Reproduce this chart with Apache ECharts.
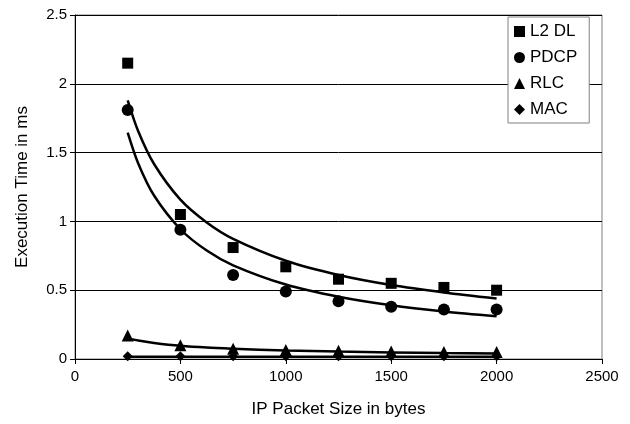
<!DOCTYPE html>
<html>
<head>
<meta charset="utf-8">
<script src="https://cdn.jsdelivr.net/npm/echarts@6/dist/echarts.min.js"></script>
<style>html,body{margin:0;padding:0;background:#fff}#c{width:630px;height:424px}</style>
</head>
<body>
<div id="c"></div>
<script>
const packetSizes = [250, 500, 750, 1000, 1250, 1500, 1750, 2000];
const l2dl = [2.15, 1.05, 0.81, 0.67, 0.58, 0.55, 0.52, 0.50];
const pdcp = [1.81, 0.94, 0.61, 0.49, 0.42, 0.38, 0.36, 0.36];
const rlc  = [0.17, 0.10, 0.075, 0.065, 0.06, 0.055, 0.05, 0.05];
const mac  = [0.02, 0.02, 0.02, 0.02, 0.02, 0.02, 0.02, 0.02];
// trend curves
const trendSizes = [250, 300, 375, 500, 625, 750, 1000, 1250, 1500, 1750, 2000];
const l2dlTrend = [1.88, 1.655, 1.417, 1.158, 0.992, 0.873, 0.714, 0.611, 0.538, 0.484, 0.44];
const pdcpTrend = [1.645, 1.421, 1.188, 0.943, 0.788, 0.681, 0.541, 0.452, 0.39, 0.345, 0.31];
const rlcTrend  = [0.15, 0.134, 0.117, 0.096, 0.083, 0.075, 0.062, 0.054, 0.048, 0.043, 0.04];
const macTrend  = [0.016, 0.016, 0.016, 0.016, 0.016, 0.016, 0.016, 0.016, 0.016, 0.016, 0.016];
const xTicks = [0, 500, 1000, 1500, 2000, 2500];
const yTicks = [0, 0.5, 1, 1.5, 2, 2.5];
const seriesNames = ['L2 DL', 'PDCP', 'RLC', 'MAC'];

function pairs(xs, vals){ return xs.map((x,i)=>[x, vals[i]]); }
const font = 'Liberation Sans, Arial, sans-serif';

const chart = echarts.init(document.getElementById('c'), null, {renderer:'canvas'});
const trend = (vals) => ({
  type:'line', data: pairs(trendSizes, vals), smooth: 0.3, showSymbol:false, silent:true,
  lineStyle:{color:'#000', width:2.5}, z:2
});
const scat = (name, vals, symbol, size) => ({
  type:'scatter', name, data: pairs(packetSizes, vals), symbol, symbolSize:size,
  itemStyle:{color:'#000', opacity:1}, z:5
});
chart.setOption({
  animation:false,
  grid:{left:75, right:28, top:15, bottom:65, show:true, borderColor:'#808080', borderWidth:1},
  legend:{
    data: seriesNames, orient:'vertical', left:508, top:17,
    width:80, backgroundColor:'#fff',
    borderColor:'#808080', borderWidth:1, padding:[6,12,5,6],
    itemGap:9, itemWidth:11, itemHeight:11,
    itemStyle:{opacity:1},
    textStyle:{fontFamily:font, fontSize:17, color:'#000', lineHeight:17}
  },
  xAxis:{
    type:'value', min:xTicks[0], max:xTicks[xTicks.length-1], interval:500,
    name:'IP Packet Size in bytes', nameLocation:'middle', nameGap:42,
    nameTextStyle:{fontFamily:font, fontSize:17, color:'#000'},
    axisLine:{show:true, lineStyle:{color:'#000', width:1}},
    axisTick:{show:true, length:5, lineStyle:{color:'#000'}},
    axisLabel:{fontFamily:font, fontSize:15, color:'#000', margin:10, formatter: v => String(v)},
    splitLine:{show:false}
  },
  yAxis:{
    type:'value', min:yTicks[0], max:yTicks[yTicks.length-1], interval:0.5,
    name:'Execution Time in ms', nameLocation:'middle', nameGap:44,
    nameTextStyle:{fontFamily:font, fontSize:17, color:'#000'},
    axisLine:{show:true, lineStyle:{color:'#000', width:1}},
    axisTick:{show:true, length:5, lineStyle:{color:'#000'}},
    axisLabel:{fontFamily:font, fontSize:15, color:'#000', margin:8, formatter: v => String(v)},
    splitLine:{show:true, lineStyle:{color:'#000', width:1}}
  },
  series:[
    trend(l2dlTrend), trend(pdcpTrend), trend(rlcTrend), trend(macTrend),
    scat('L2 DL', l2dl, 'rect', 11),
    scat('PDCP', pdcp, 'circle', 12),
    scat('RLC', rlc, 'triangle', 12),
    scat('MAC', mac, 'diamond', 10)
  ]
});
</script>
</body>
</html>
